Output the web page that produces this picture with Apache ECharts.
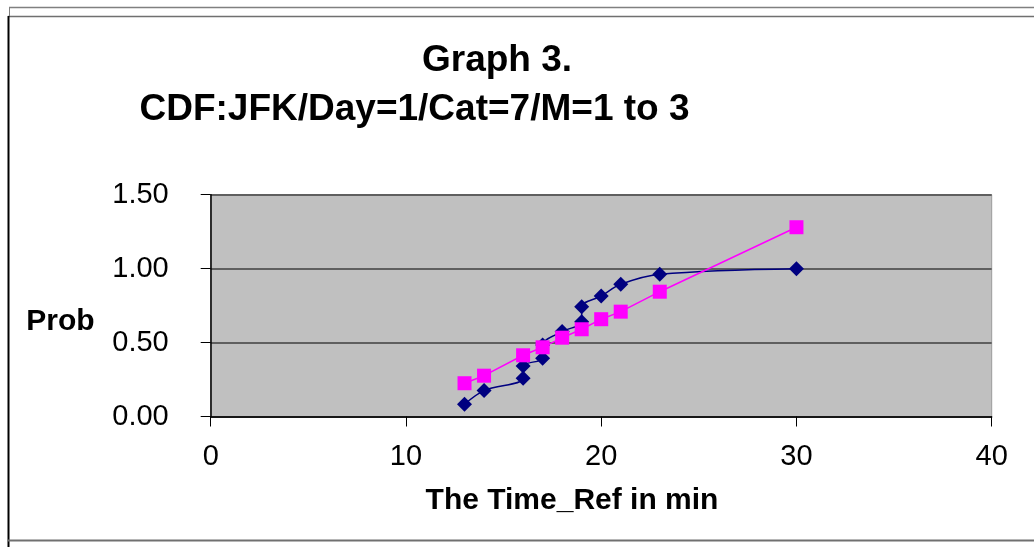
<!DOCTYPE html>
<html>
<head>
<meta charset="utf-8">
<script src="https://cdn.jsdelivr.net/npm/echarts@6/dist/echarts.min.js"></script>
<style>
html,body{margin:0;padding:0;background:#fff;}
#c{width:1034px;height:547px;}
</style>
</head>
<body>
<div id="c"></div>
<script>
var titleLine1 = 'Graph 3.';
var titleLine2 = 'CDF:JFK/Day=1/Cat=7/M=1 to 3';
var xName = 'The Time_Ref in min';
var yName = 'Prob';

var blueTimes = [13, 14, 16, 16, 17, 17, 18, 19, 19, 20, 21, 23, 30];
var blueProbs = [0.083, 0.175, 0.258, 0.342, 0.394, 0.484, 0.574, 0.641, 0.743, 0.815, 0.894, 0.962, 1.0];

var pinkTimes = [13, 14, 16, 17, 18, 19, 20, 21, 23, 30];
var pinkProbs = [0.225, 0.276, 0.414, 0.468, 0.533, 0.590, 0.658, 0.709, 0.844, 1.280];

function pairs(xs, ys){ return xs.map(function(x,i){ return [x, ys[i]]; }); }

var FONT = "'Liberation Sans', Arial, sans-serif";
var chart = echarts.init(document.getElementById('c'), null, {renderer:'canvas'});
chart.setOption({
  animation: false,
  backgroundColor: '#ffffff',
  grid: {
    left: 210.7, right: 42.3, top: 194.7, bottom: 130.5,
    show: true, backgroundColor: '#C0C0C0', borderColor: '#9a9a9a', borderWidth: 1
  },
  xAxis: {
    type: 'value', min: 0, max: 40, interval: 10,
    axisLine: {show: true, onZero: false, lineStyle: {color: '#000', width: 1.5}},
    axisTick: {show: true, inside: false, length: 10, lineStyle: {color: '#000', width: 1}},
    axisLabel: {color: '#000', fontSize: 29, fontFamily: FONT, margin: 26},
    splitLine: {show: false}
  },
  yAxis: {
    type: 'value', min: 0, max: 1.5, interval: 0.5,
    axisLine: {show: true, lineStyle: {color: '#000', width: 1.5}},
    axisTick: {show: true, inside: false, length: 10, lineStyle: {color: '#000', width: 1}},
    axisLabel: {color: '#000', fontSize: 29, fontFamily: FONT, margin: 42,
      formatter: function(v){ return v.toFixed(2); }},
    splitLine: {show: true, lineStyle: {color: '#5f5f5f', width: 2}}
  },
  series: [
    {
      type: 'line', name: 'M1', data: pairs(blueTimes, blueProbs),
      smooth: 0.35, symbol: 'diamond', symbolSize: 15,
      lineStyle: {color: '#000080', width: 1.5},
      itemStyle: {color: '#000080'}, z: 2
    },
    {
      type: 'line', name: 'M2', data: pairs(pinkTimes, pinkProbs),
      smooth: false, symbol: 'rect', symbolSize: 14,
      lineStyle: {color: '#FF00FF', width: 1.5},
      itemStyle: {color: '#FF00FF'}, z: 3
    }
  ],
  graphic: [
    {type:'line', shape:{x1:9, y1:7.5, x2:1034, y2:7.5}, style:{stroke:'#808080', lineWidth:1.5}, silent:true},
    {type:'line', shape:{x1:9.5, y1:7, x2:9.5, y2:16}, style:{stroke:'#808080', lineWidth:1}, silent:true},
    {type:'line', shape:{x1:8, y1:16.5, x2:1034, y2:16.5}, style:{stroke:'#707070', lineWidth:1.5}, silent:true},
    {type:'line', shape:{x1:8.5, y1:16, x2:8.5, y2:547}, style:{stroke:'#000', lineWidth:2}, silent:true},
    {type:'line', shape:{x1:8, y1:540.5, x2:1034, y2:540.5}, style:{stroke:'#707070', lineWidth:2}, silent:true},
    {type:'text', x:497, y:61, style:{text:titleLine1, fill:'#000', font:"bold 37px 'Liberation Sans', Arial, sans-serif", textAlign:'center', textVerticalAlign:'middle'}, silent:true},
    {type:'text', x:414.5, y:109.5, style:{text:titleLine2, fill:'#000', font:"bold 37px 'Liberation Sans', Arial, sans-serif", textAlign:'center', textVerticalAlign:'middle'}, silent:true},
    {type:'text', x:60.5, y:321.7, style:{text:yName, fill:'#000', font:"bold 30px 'Liberation Sans', Arial, sans-serif", textAlign:'center', textVerticalAlign:'middle'}, silent:true},
    {type:'text', x:572, y:501, style:{text:xName, fill:'#000', font:"bold 30px 'Liberation Sans', Arial, sans-serif", textAlign:'center', textVerticalAlign:'middle'}, silent:true}
  ]
});
</script>
</body>
</html>
